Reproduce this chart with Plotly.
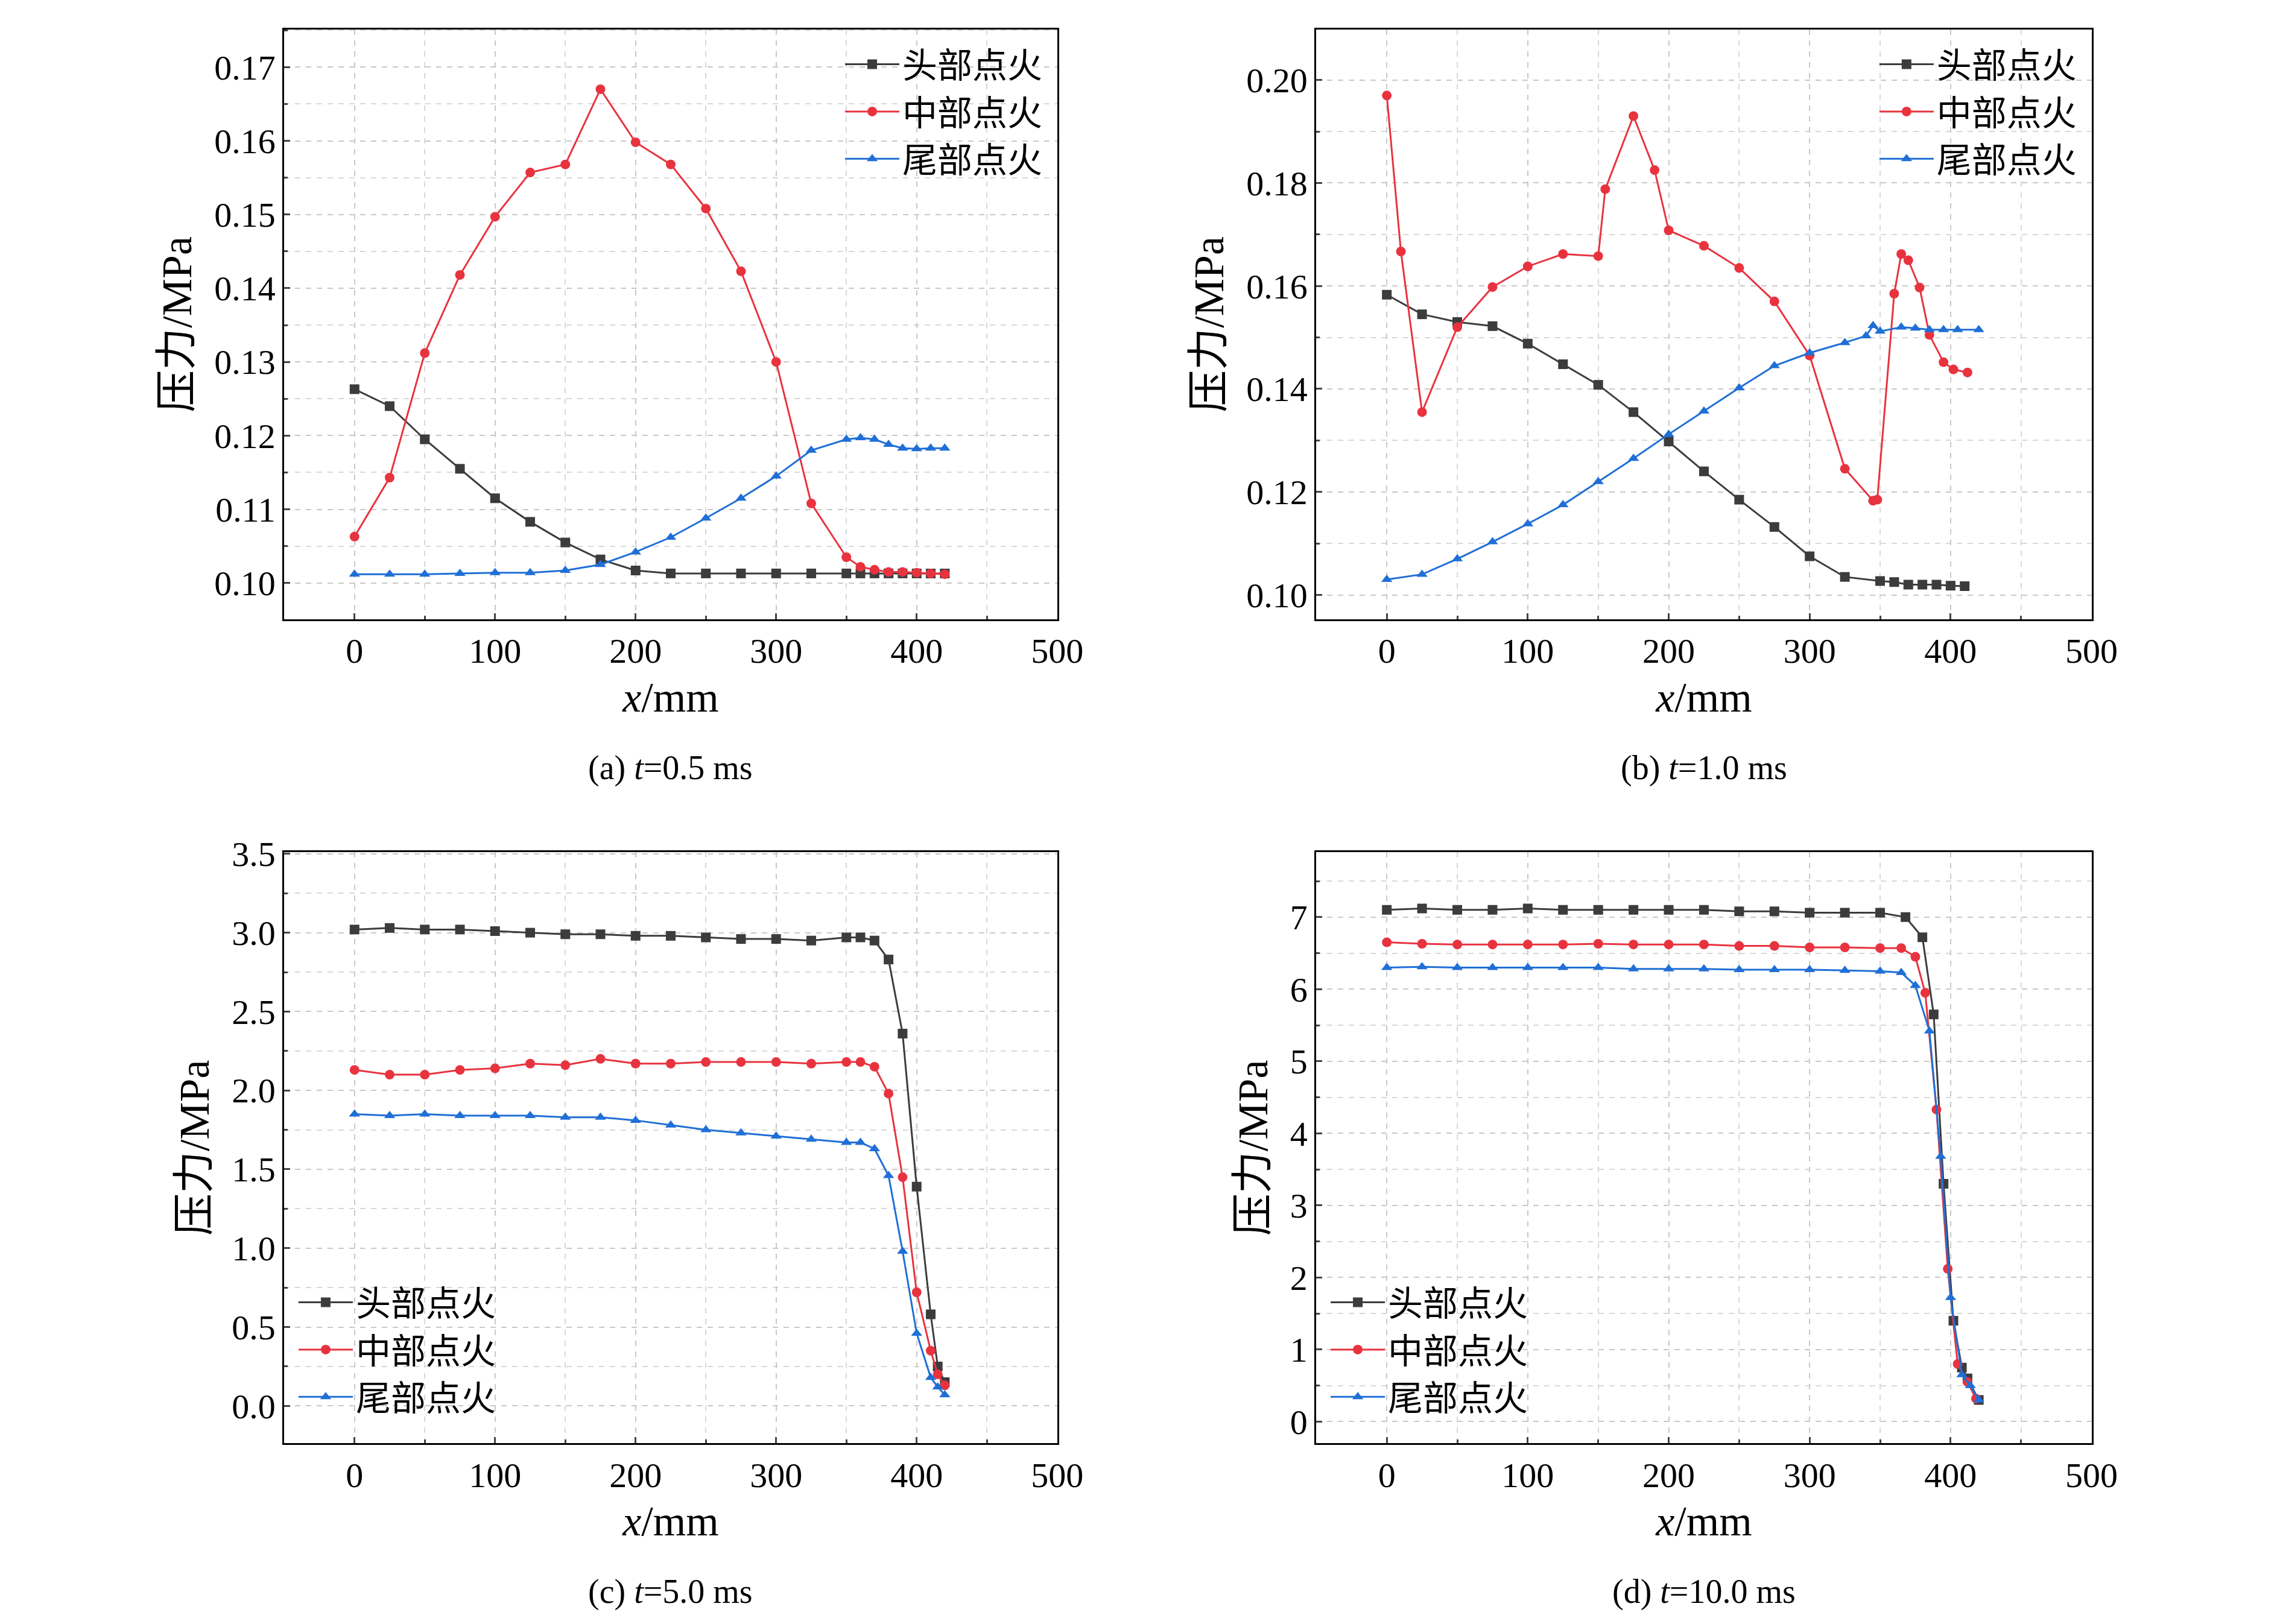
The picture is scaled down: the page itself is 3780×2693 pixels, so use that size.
import plotly.graph_objects as go

# (a) t=0.5 ms
xa = [0, 25, 50, 75, 100, 125, 150, 175, 200, 225, 250, 275, 300, 325, 350, 360, 370, 380, 390, 400, 410, 420]
a_head = [0.1263, 0.1240, 0.1195, 0.1155, 0.1115, 0.1083, 0.1055, 0.1032, 0.1017, 0.1013, 0.1013, 0.1013, 0.1013,
          0.1013, 0.1013, 0.1013, 0.1013, 0.1013, 0.1013, 0.1013, 0.1013, 0.1013]
a_mid = [0.1063, 0.1143, 0.1312, 0.1418, 0.1497, 0.1557, 0.1568, 0.1670, 0.1598, 0.1568, 0.1508, 0.1423, 0.1300,
         0.1108, 0.1035, 0.1022, 0.1018, 0.1015, 0.1015, 0.1014, 0.1013, 0.1012]
a_tail = [0.1012, 0.1012, 0.1012, 0.1013, 0.1014, 0.1014, 0.1017, 0.1025, 0.1042, 0.1062, 0.1088, 0.1115, 0.1145,
          0.1180, 0.1195, 0.1197, 0.1195, 0.1188, 0.1183, 0.1182, 0.1183, 0.1183]

# (b) t=1.0 ms
xb_head = [0, 25, 50, 75, 100, 125, 150, 175, 200, 225, 250, 275, 300, 325, 350, 360, 370, 380, 390, 400, 410]
b_head = [0.1583, 0.1545, 0.1530, 0.1522, 0.1488, 0.1448, 0.1408, 0.1355, 0.1298, 0.1240, 0.1185, 0.1132, 0.1075,
          0.1035, 0.1027, 0.1025, 0.1020, 0.1020, 0.1020, 0.1018, 0.1017]
xb_mid = [0, 10, 25, 50, 75, 100, 125, 150, 155, 175, 190, 200, 225, 250, 275, 300, 325, 345, 348, 360, 365, 370,
          378, 385, 395, 402, 412]
b_mid = [0.1970, 0.1667, 0.1355, 0.1520, 0.1598, 0.1638, 0.1662, 0.1658, 0.1788, 0.1930, 0.1825, 0.1708, 0.1678,
         0.1635, 0.1570, 0.1465, 0.1245, 0.1183, 0.1185, 0.1585, 0.1662, 0.1650, 0.1597, 0.1505, 0.1452, 0.1438, 0.1432]
xb_tail = [0, 25, 50, 75, 100, 125, 150, 175, 200, 225, 250, 275, 300, 325, 340, 345, 350, 365, 375, 385, 395, 405, 420]
b_tail = [0.1030, 0.1040, 0.1070, 0.1103, 0.1138, 0.1175, 0.1220, 0.1265, 0.1312, 0.1357, 0.1402, 0.1445, 0.1470,
          0.1490, 0.1503, 0.1523, 0.1512, 0.1520, 0.1518, 0.1515, 0.1515, 0.1515, 0.1515]

# (c) t=5.0 ms
xc = [0, 25, 50, 75, 100, 125, 150, 175, 200, 225, 250, 275, 300, 325, 350, 360, 370, 380, 390, 400, 410, 415, 420]
c_head = [3.02, 3.03, 3.02, 3.02, 3.01, 3.00, 2.99, 2.99, 2.98, 2.98, 2.97, 2.96, 2.96, 2.95, 2.97, 2.97, 2.95,
          2.83, 2.36, 1.39, 0.58, 0.25, 0.15]
c_mid = [2.13, 2.10, 2.10, 2.13, 2.14, 2.17, 2.16, 2.20, 2.17, 2.17, 2.18, 2.18, 2.18, 2.17, 2.18, 2.18, 2.15,
         1.98, 1.45, 0.72, 0.35, 0.20, 0.13]
c_tail = [1.85, 1.84, 1.85, 1.84, 1.84, 1.84, 1.83, 1.83, 1.81, 1.78, 1.75, 1.73, 1.71, 1.69, 1.67, 1.67, 1.63,
          1.46, 0.98, 0.46, 0.18, 0.12, 0.07]

# (d) t=10.0 ms
xd_head = [0, 25, 50, 75, 100, 125, 150, 175, 200, 225, 250, 275, 300, 325, 350, 368, 380, 388, 395, 402, 408, 412, 420]
d_head = [7.10, 7.12, 7.10, 7.10, 7.12, 7.10, 7.10, 7.10, 7.10, 7.10, 7.08, 7.08, 7.06, 7.06, 7.06, 7.00, 6.72,
          5.65, 3.30, 1.40, 0.75, 0.60, 0.30]
xd_mid = [0, 25, 50, 75, 100, 125, 150, 175, 200, 225, 250, 275, 300, 325, 350, 365, 375, 382, 390, 398, 405, 412, 418]
d_mid = [6.65, 6.63, 6.62, 6.62, 6.62, 6.62, 6.63, 6.62, 6.62, 6.62, 6.60, 6.60, 6.58, 6.58, 6.57, 6.57, 6.45,
         5.95, 4.33, 2.12, 0.80, 0.55, 0.32]
xd_tail = [0, 25, 50, 75, 100, 125, 150, 175, 200, 225, 250, 275, 300, 325, 350, 365, 375, 385, 393, 400, 408, 414, 420]
d_tail = [6.30, 6.31, 6.30, 6.30, 6.30, 6.30, 6.30, 6.28, 6.28, 6.28, 6.27, 6.27, 6.27, 6.26, 6.25, 6.23, 6.05,
          5.42, 3.68, 1.72, 0.65, 0.50, 0.30]

names = ["头部点火", "中部点火", "尾部点火"]
colors = ["#3c3c3c", "#e8333f", "#1f6fd6"]
symbols = ["square", "circle", "triangle-up"]

panels = [
    dict(series=[(xa, a_head), (xa, a_mid), (xa, a_tail)], yr=[0.0951, 0.1751], dtick=0.01, fmt=".2f",
         cap="(a) <i>t</i>=0.5 ms", leg="tr"),
    dict(series=[(xb_head, b_head), (xb_mid, b_mid), (xb_tail, b_tail)], yr=[0.0953, 0.2098], dtick=0.02,
         fmt=".2f", cap="(b) <i>t</i>=1.0 ms", leg="tr"),
    dict(series=[(xc, c_head), (xc, c_mid), (xc, c_tail)], yr=[-0.237, 3.51], dtick=0.5, fmt=".1f",
         cap="(c) <i>t</i>=5.0 ms", leg="bl"),
    dict(series=[(xd_head, d_head), (xd_mid, d_mid), (xd_tail, d_tail)], yr=[-0.3, 7.9], dtick=1, fmt="d",
         cap="(d) <i>t</i>=10.0 ms", leg="bl"),
]

doms_x = [[0.124, 0.467], [0.582, 0.926], [0.124, 0.467], [0.582, 0.926]]
doms_y = [[0.6285, 0.9955], [0.6285, 0.9955], [0.1155, 0.4834], [0.1155, 0.4834]]

FONT = "Liberation Serif, Noto Sans CJK SC"
fig = go.Figure()
layout = dict(width=3780, height=2693, plot_bgcolor="white", paper_bgcolor="white",
              font=dict(family=FONT, size=58, color="black"), margin=dict(l=0, r=0, t=0, b=0),
              annotations=[])

for i, p in enumerate(panels):
    n = "" if i == 0 else str(i + 1)
    for k, (xs, ys) in enumerate(p["series"]):
        fig.add_trace(go.Scatter(
            x=xs, y=ys, mode="lines+markers", name=names[k],
            line=dict(color=colors[k], width=3),
            marker=dict(symbol=symbols[k], size=16, color=colors[k]),
            xaxis="x" + n, yaxis="y" + n, legend="legend" + n, showlegend=True))
    grid = dict(showgrid=True, gridcolor="#c8c8c8", griddash="dash", gridwidth=2)
    layout["xaxis" + n] = dict(domain=doms_x[i], range=[-50, 500], dtick=100, anchor="y" + n,
                               showline=True, mirror=True, linecolor="black", linewidth=3,
                               ticks="inside", ticklen=10, tickwidth=3, zeroline=False,
                               minor=dict(dtick=50, ticks="inside", ticklen=6, showgrid=True,
                                          gridcolor="#d8d8d8", griddash="dash", gridwidth=2),
                               title=dict(text="<i>x</i>/mm", standoff=20), **grid)
    layout["yaxis" + n] = dict(domain=doms_y[i], range=p["yr"], dtick=p["dtick"], tickformat=p["fmt"],
                               anchor="x" + n, showline=True, mirror=True, linecolor="black", linewidth=3,
                               ticks="inside", ticklen=10, tickwidth=3, zeroline=False,
                               minor=dict(dtick=p["dtick"] / 2, ticks="inside", ticklen=6, showgrid=True,
                                          gridcolor="#d8d8d8", griddash="dash", gridwidth=2),
                               title=dict(text="压力/MPa", standoff=15), **grid)
    if p["leg"] == "tr":
        lx, ly, xa_, ya_ = doms_x[i][1] - 0.005, doms_y[i][1] - 0.005, "right", "top"
    else:
        lx, ly, xa_, ya_ = doms_x[i][0] + 0.005, doms_y[i][0] + 0.012, "left", "bottom"
    layout["legend" + n] = dict(x=lx, y=ly, xanchor=xa_, yanchor=ya_, bgcolor="rgba(0,0,0,0)",
                                font=dict(size=58, family=FONT), tracegroupgap=0, itemwidth=90)
    layout["annotations"].append(dict(
        text=p["cap"], x=sum(doms_x[i]) / 2, y=doms_y[i][0] - 0.08, xref="paper", yref="paper",
        showarrow=False, xanchor="center", yanchor="top", font=dict(size=56, family=FONT)))

fig.update_layout(**layout)
fig.write_html("out.html")
